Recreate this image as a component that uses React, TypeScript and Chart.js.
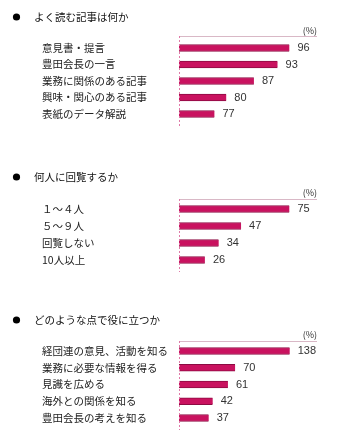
import React, { useEffect, useRef } from "react";
import { Chart, registerables } from "chart.js";

Chart.register(...registerables);

// ---- data ----
const titles1 = "よく読む記事は何か";
const categories1 = ["意見書・提言", "豊田会長の一言", "業務に関係のある記事", "興味・関心のある記事", "表紙のデータ解説"];
const values1 = [96, 93, 87, 80, 77];

const titles2 = "何人に回覧するか";
const categories2 = ["１～４人", "５～９人", "回覧しない", "10人以上"];
const values2 = [75, 47, 34, 26];

const titles3 = "どのような点で役に立つか";
const categories3 = ["経団連の意見、活動を知る", "業務に必要な情報を得る", "見識を広める", "海外との関係を知る", "豊田会長の考えを知る"];
const values3 = [138, 70, 61, 42, 37];

const unitLabel = "(%)";

type PanelProps = {
  title: string;
  labels: string[];
  values: number[];
  height: number;
  titleY: number;
  unitY: number;
  lineY: number;
  axisBottom: number;
  padTop: number;
  padBottom: number;
  xMin: number;
  xMax: number;
};

const JP_FONT = "'Noto Sans CJK JP', 'Noto Sans', sans-serif";
const NUM_FONT = "'Liberation Sans', Arial, sans-serif";

function Panel(p: PanelProps) {
  const ref = useRef<HTMLCanvasElement>(null);
  useEffect(() => {
    if (!ref.current) return;
    const deco = {
      id: "deco",
      afterDraw(chart: any) {
        const ctx = chart.ctx as CanvasRenderingContext2D;
        const area = chart.chartArea;
        ctx.save();
        // bullet
        ctx.fillStyle = "#000";
        ctx.beginPath();
        ctx.arc(16.5, p.titleY, 3.6, 0, Math.PI * 2);
        ctx.fill();
        // title
        ctx.font = `10.5px ${JP_FONT}`;
        ctx.textBaseline = "middle";
        ctx.textAlign = "left";
        ctx.fillStyle = "#111";
        ctx.fillText(p.title, 34, p.titleY);
        // unit
        ctx.font = `9px ${JP_FONT}`;
        ctx.fillStyle = "#333";
        ctx.textAlign = "right";
        ctx.fillText(unitLabel, area.right, p.unitY);
        // top line
        ctx.strokeStyle = "#d9b8c6";
        ctx.lineWidth = 1;
        ctx.beginPath();
        ctx.moveTo(area.left, p.lineY + 0.5);
        ctx.lineTo(area.right, p.lineY + 0.5);
        ctx.stroke();
        // left dotted axis
        ctx.strokeStyle = "#e07aa8";
        ctx.setLineDash([2, 2]);
        ctx.beginPath();
        ctx.moveTo(area.left + 0.5, p.lineY);
        ctx.lineTo(area.left + 0.5, p.axisBottom);
        ctx.stroke();
        ctx.setLineDash([]);
        // value labels
        const meta = chart.getDatasetMeta(0);
        ctx.font = `11px ${NUM_FONT}`;
        ctx.fillStyle = "#333";
        ctx.textAlign = "left";
        ctx.textBaseline = "middle";
        meta.data.forEach((el: any, i: number) => {
          ctx.fillText(String(p.values[i]), el.x + 8, el.y);
        });
        ctx.restore();
      },
    };
    const chart = new Chart(ref.current, {
      type: "bar",
      data: {
        labels: p.labels,
        datasets: [
          {
            data: p.values,
            backgroundColor: "#c9125f",
            borderColor: "#8c0b42",
            borderWidth: { top: 1, bottom: 1, right: 0, left: 0 },
            borderSkipped: false,
            barThickness: 7,
          },
        ],
      },
      options: {
        indexAxis: "y",
        animation: false,
        responsive: false,
        devicePixelRatio: 1,
        layout: { padding: { left: 42, right: 23, top: p.padTop, bottom: p.padBottom } },
        plugins: { legend: { display: false }, tooltip: { enabled: false }, title: { display: false } },
        scales: {
          x: { type: "linear", min: p.xMin, max: p.xMax, display: false },
          y: {
            type: "category",
            grid: { display: false },
            border: { display: false },
            ticks: {
              crossAlign: "far",
              color: "#222",
              font: { family: JP_FONT, size: 10.5 },
              padding: 0,
            },
            afterFit(scale: any) {
              scale.width = 137;
            },
          },
        },
      },
      plugins: [deco],
    } as any);
    return () => chart.destroy();
  }, []);
  return (
    <div style={{ width: 340, height: p.height }}>
      <canvas ref={ref} width={340} height={p.height} style={{ display: "block" }} />
    </div>
  );
}

export default function App() {
  return (
    <div style={{ position: "absolute", left: 0, top: 0, width: 340, height: 442, background: "#fff" }}>
      <Panel title={titles1} labels={categories1} values={values1} height={140} titleY={17} unitY={31} lineY={36} axisBottom={126} padTop={39.75} padBottom={17.75} xMin={68} xMax={103} />
      <Panel title={titles2} labels={categories2} values={values2} height={150} titleY={37} unitY={53} lineY={59} axisBottom={132} padTop={60.5} padBottom={21.5} xMin={11} xMax={91} />
      <Panel title={titles3} labels={categories3} values={values3} height={152} titleY={30} unitY={45} lineY={51} axisBottom={140} padTop={52.6} padBottom={15.6} xMin={0} xMax={172} />
    </div>
  );
}
